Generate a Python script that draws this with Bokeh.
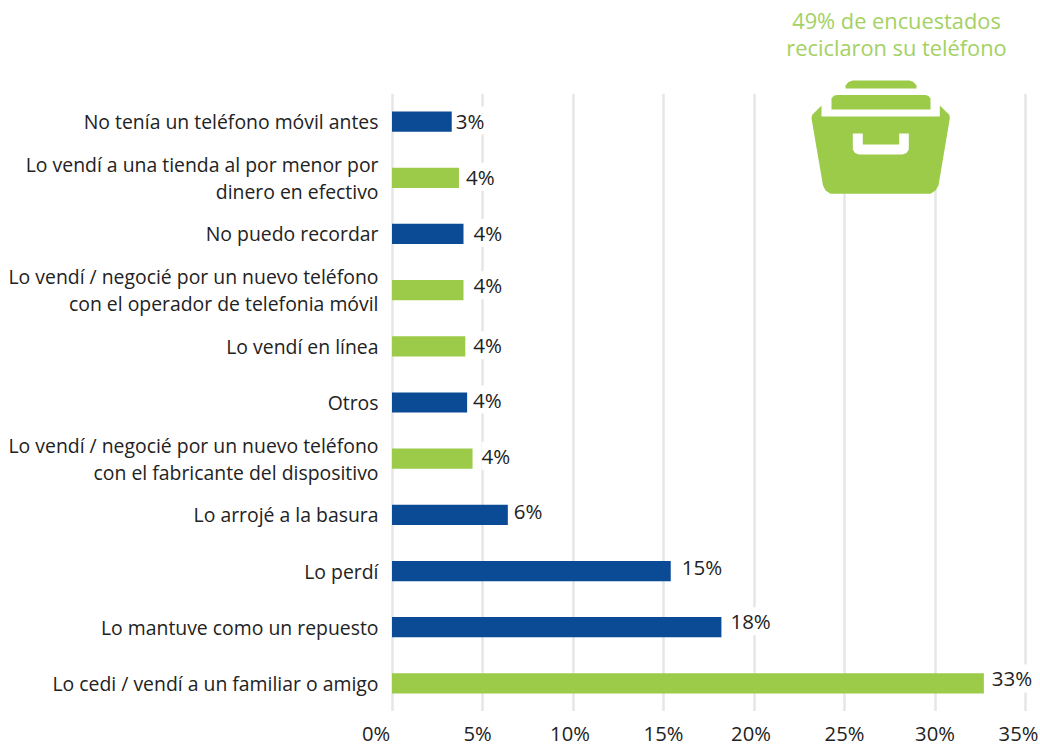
from bokeh.plotting import figure
from bokeh.layouts import column
from bokeh.embed import file_html
from bokeh.resources import INLINE
from bokeh.core.properties import value
from bokeh.models import FactorRange, Range1d, FixedTicker, PolyAnnotation

categories = [
    "No tenía un teléfono móvil antes",
    "Lo vendí a una tienda al por menor por\ndinero en efectivo",
    "No puedo recordar",
    "Lo vendí / negocié por un nuevo teléfono\ncon el operador de telefonia móvil",
    "Lo vendí en línea",
    "Otros",
    "Lo vendí / negocié por un nuevo teléfono\ncon el fabricante del dispositivo",
    "Lo arrojé a la basura",
    "Lo perdí",
    "Lo mantuve como un repuesto",
    "Lo cedi / vendí a un familiar o amigo",
]
values = [3.3, 3.7, 3.95, 3.95, 4.05, 4.15, 4.45, 6.4, 15.4, 18.2, 32.7]
value_labels = ["3%", "4%", "4%", "4%", "4%", "4%", "4%", "6%", "15%", "18%", "33%"]
recycled = [False, True, False, True, True, False, True, False, False, False, True]
ticks = [0, 5, 10, 15, 20, 25, 30, 35]
tick_labels = ["0%", "5%", "10%", "15%", "20%", "25%", "30%", "35%"]
title_lines = ["49% de encuestados", "reciclaron su teléfono"]

BLUE, GREEN, TITLE_GREEN, GRID, INK = "#0b4a95", "#9ccb4a", "#a3d164", "#e6e6e6", "#222222"
FONT = "Open Sans"
W, H = 1040, 746
PX_PER_UNIT = 18.1
ZERO_PX = 391.5
FRAME_LEFT, FRAME_TOP, FRAME_BOTTOM = 355, 93, 711

# layout nudges of the printed labels, in pixels
tick_dx = [-16, -5, -3, 0, -3, 0, 0, -7]
label_dx = [4, 7, 10, 10, 8, 6, 9, 6, 11, 9, 8]
label_dy = [-1, -1, -1, -5, -1, -3, -3, -4, -4, -6, -5]

x_start = (FRAME_LEFT - ZERO_PX) / PX_PER_UNIT
x_end = (W - ZERO_PX) / PX_PER_UNIT


def strip(height, x_range, y_range):
    s = figure(width=W, height=height, output_backend="svg", toolbar_location=None,
               x_range=x_range, y_range=y_range,
               min_border_left=FRAME_LEFT, min_border_right=0, min_border_top=0, min_border_bottom=0)
    s.axis.visible = False
    s.grid.visible = False
    s.outline_line_color = None
    s.border_fill_color = None
    return s


# top strip: heading and the top of the icon, in picture pixels
head = strip(FRAME_TOP, Range1d(FRAME_LEFT, W), Range1d(FRAME_TOP, 0))
head.text(x=[896, 896], y=[20, 47], text=title_lines,
          text_font=value(FONT), text_font_size="21.8px", text_color=TITLE_GREEN,
          text_align="center", text_baseline="middle")
head.patch(x=[845, 845, 848, 852, 909, 913, 916, 916],
           y=[88, 85, 81.5, 80, 80, 81.5, 85, 88], color=GREEN, line_color=None)

# main panel
p = figure(
    width=W, height=FRAME_BOTTOM - FRAME_TOP, output_backend="svg", toolbar_location=None,
    x_range=Range1d(x_start, x_end),
    y_range=FactorRange(factors=categories[::-1], factor_padding=0, range_padding=0),
    min_border_left=FRAME_LEFT, min_border_right=0, min_border_top=0, min_border_bottom=0,
)
p.outline_line_color = None
p.background_fill_color = "white"
p.border_fill_color = None

p.xaxis.visible = False
p.xgrid.ticker = FixedTicker(ticks=ticks)
p.xgrid.grid_line_color = GRID
p.xgrid.grid_line_width = 2.5
p.ygrid.visible = False

ax = p.yaxis[0]
ax.axis_line_color = None
ax.major_tick_line_color = None
ax.minor_tick_line_color = None
ax.major_tick_in = 0
ax.major_tick_out = 0
ax.major_label_standoff = FRAME_LEFT - 378
ax.major_label_text_font = FONT
ax.major_label_text_font_size = "19.4px"
ax.major_label_text_color = INK
ax.major_label_text_line_height = 1.0

colors = [GREEN if r else BLUE for r in recycled]
p.hbar(y=categories, right=values, left=0, height=0.36, color=colors, line_color=None)

p.text(
    x=values, y=categories, text=value_labels, x_offset=label_dx, y_offset=label_dy,
    text_font=value(FONT), text_font_size="20.5px", text_color=INK,
    text_align="left", text_baseline="middle",
    background_fill_color="white",
)


def poly(pts, color):
    p.add_layout(PolyAnnotation(
        xs=[a for a, _ in pts], ys=[b - FRAME_TOP for _, b in pts],
        xs_units="canvas", ys_units="canvas", level="overlay",
        fill_color=color, fill_alpha=1, line_color=None,
    ))


# rest of the drawer icon, in picture pixels
poly([(821, 93), (939, 93), (939, 118), (821, 118)], "white")
poly([(831, 109), (831, 98), (833, 95.5), (836, 94.5), (925, 94.5), (928, 95.5), (930, 98), (930, 109)], GREEN)
poly([(821, 105), (811.5, 114.5), (811, 118), (822.5, 185), (825, 190), (830, 193.3),
      (930, 193.3), (935, 190), (938, 185), (949.3, 118), (949, 114.5), (939.3, 105),
      (939.3, 116), (821, 116)], GREEN)
poly([(852.3, 133), (862.3, 133), (862.3, 144), (898.7, 144), (898.7, 133), (908.3, 133),
      (908.3, 149), (906, 152.5), (902, 154), (858.5, 154), (854.5, 152.5), (852.3, 149)], "white")

# bottom strip: the percentage scale
foot = strip(H - FRAME_BOTTOM, Range1d(x_start, x_end), Range1d(H, FRAME_BOTTOM))
foot.text(x=ticks, y=[732.5] * len(ticks), text=tick_labels, x_offset=tick_dx,
          text_font=value(FONT), text_font_size="20.2px", text_color=INK,
          text_align="center", text_baseline="middle")

page = column(head, p, foot, spacing=0)
open("out.html", "w").write(file_html(page, INLINE))
